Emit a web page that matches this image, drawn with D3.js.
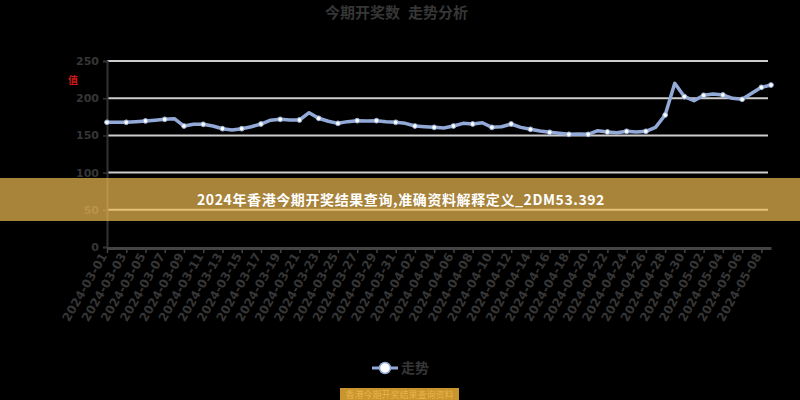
<!DOCTYPE html>
<html>
<head>
<meta charset="utf-8">
<script src="https://cdn.jsdelivr.net/npm/d3@7/dist/d3.min.js"></script>
<style>
html,body{margin:0;padding:0;background:#000;}
svg{display:block;}
</style>
</head>
<body>
<svg id="chart" width="800" height="400"></svg>
<script>
const titleParts = ["今期开奖数", "走势分析"];
const bannerText = "2024年香港今期开奖结果查询,准确资料解释定义_2DM53.392";
const seriesName = "走势";
const yTicks = [0, 50, 100, 150, 200, 250];
const categories = [
  "2024-03-01","2024-03-02","2024-03-03","2024-03-04","2024-03-05","2024-03-06","2024-03-07","2024-03-08","2024-03-09","2024-03-10",
  "2024-03-11","2024-03-12","2024-03-13","2024-03-14","2024-03-15","2024-03-16","2024-03-17","2024-03-18","2024-03-19","2024-03-20",
  "2024-03-21","2024-03-22","2024-03-23","2024-03-24","2024-03-25","2024-03-26","2024-03-27","2024-03-28","2024-03-29","2024-03-30",
  "2024-03-31","2024-04-01","2024-04-02","2024-04-03","2024-04-04","2024-04-05","2024-04-06","2024-04-07","2024-04-08","2024-04-09",
  "2024-04-10","2024-04-11","2024-04-12","2024-04-13","2024-04-14","2024-04-15","2024-04-16","2024-04-17","2024-04-18","2024-04-19",
  "2024-04-20","2024-04-21","2024-04-22","2024-04-23","2024-04-24","2024-04-25","2024-04-26","2024-04-27","2024-04-28","2024-04-29",
  "2024-04-30","2024-05-01","2024-05-02","2024-05-03","2024-05-04","2024-05-05","2024-05-06","2024-05-07","2024-05-08","2024-05-09"
];
const values = [
  167.6,167.6,167.6,168.5,169.4,170.5,171.6,172.5,162.6,165.0,
  164.9,162.6,159.0,157.2,159.0,161.7,165.3,170.5,171.6,170.7,
  170.7,180.5,173.0,169.0,166.2,168.5,169.8,169.4,169.8,168.5,
  167.6,166.2,162.6,161.7,160.8,160.0,162.6,166.2,165.3,167.0,
  160.8,161.7,165.3,160.8,158.2,155.9,154.1,152.8,151.4,151.9,
  151.4,156.3,154.6,153.6,155.5,154.6,155.5,160.8,177.4,220.0,
  202.0,196.6,203.9,205.6,204.3,199.8,198.5,206.6,214.6,217.7
];

const textColor = "#363636";
const svg = d3.select("#chart");
const x = d3.scalePoint().domain(categories).range([107, 771]);
const y = d3.scaleLinear().domain([0, 250]).range([247, 61]);

// title
const tg = svg.append("g").attr("font-family", "'Noto Sans CJK SC', sans-serif")
  .attr("font-size", 15).attr("font-weight", "bold").attr("fill", textColor);
tg.append("text").attr("x", 325).attr("y", 18).text(titleParts[0]);
tg.append("text").attr("x", 408).attr("y", 18).text(titleParts[1]);

// red y-axis name mark
svg.append("text").attr("x", 68).attr("y", 84)
  .attr("font-family", "'Noto Sans CJK SC', sans-serif").attr("font-size", 10)
  .attr("font-weight", "bold").attr("fill", "#d01818").text("值");

// grid lines
svg.append("g").selectAll("line").data(yTicks.filter(d => d > 0)).join("line")
  .attr("x1", 107).attr("x2", 768)
  .attr("y1", d => y(d)).attr("y2", d => y(d))
  .attr("stroke", "#cccccc").attr("stroke-width", 2);

// y axis
const yAxis = svg.append("g").attr("transform", "translate(107,0)")
  .call(d3.axisLeft(y).tickValues(yTicks).tickSize(4).tickPadding(4));
yAxis.select(".domain").attr("stroke", "#333").attr("stroke-width", 2);
yAxis.selectAll(".tick line").attr("stroke", "#333").attr("stroke-width", 1.5);
yAxis.selectAll(".tick text").attr("fill", textColor).attr("font-size", 11)
  .attr("font-weight", "bold").attr("font-family", "'DejaVu Sans', sans-serif");

// x axis
const shown = categories.filter((d, i) => i % 2 === 0);
const xAxis = svg.append("g").attr("transform", "translate(0,248)")
  .call(d3.axisBottom(x).tickValues(shown).tickSize(5).tickSizeOuter(0));
xAxis.select(".domain").attr("stroke", "#444").attr("stroke-width", 3);
xAxis.selectAll(".tick line").attr("stroke", "#444").attr("stroke-width", 1.5);
xAxis.selectAll(".tick text")
  .attr("fill", textColor).attr("font-size", 12).attr("font-weight", "bold")
  .attr("font-family", "'DejaVu Sans', sans-serif")
  .attr("text-anchor", "end").attr("dy", null).attr("y", 0)
  .attr("transform", "translate(0,8) rotate(-60)");

// line
const line = d3.line().x((d, i) => x(categories[i])).y(d => y(d));
svg.append("path").datum(values)
  .attr("fill", "none").attr("stroke", "#93aad8").attr("stroke-width", 3.5)
  .attr("stroke-linejoin", "round").attr("d", line);

// dots (every other point)
svg.append("g").selectAll("circle")
  .data(values.map((v, i) => ({v, i})).filter(d => d.i % 2 === 0 || d.i === values.length - 1))
  .join("circle")
  .attr("cx", d => x(categories[d.i])).attr("cy", d => y(d.v))
  .attr("r", 2.4).attr("fill", "#ffffff").attr("stroke", "#93aad8").attr("stroke-width", 1);

// legend
const lg = svg.append("g");
lg.append("line").attr("x1", 372).attr("x2", 398).attr("y1", 368).attr("y2", 368)
  .attr("stroke", "#93aad8").attr("stroke-width", 3);
lg.append("circle").attr("cx", 385).attr("cy", 368).attr("r", 5.5)
  .attr("fill", "#ffffff").attr("stroke", "#93aad8").attr("stroke-width", 1.5);
lg.append("text").attr("x", 401).attr("y", 373)
  .attr("font-family", "'Noto Sans CJK SC', sans-serif").attr("font-size", 14)
  .attr("font-weight", "bold").attr("fill", textColor).text(seriesName);

// bottom gold tag
svg.append("rect").attr("x", 340).attr("y", 388).attr("width", 119).attr("height", 14).attr("fill", "#c9952f");
svg.append("text").attr("x", 399.5).attr("y", 398).attr("text-anchor", "middle")
  .attr("font-family", "'Noto Sans CJK SC', sans-serif").attr("font-size", 9)
  .attr("fill", "#e8b448").text("香港今期开奖结果查询资料");

// banner overlay
svg.append("rect").attr("x", 0).attr("y", 178).attr("width", 800).attr("height", 43)
  .attr("fill", "rgb(240,187,83)").attr("fill-opacity", 0.7);
svg.append("text").attr("x", 401).attr("y", 205).attr("text-anchor", "middle")
  .attr("font-family", "'Noto Sans CJK SC', sans-serif").attr("font-size", 14)
  .attr("letter-spacing", 0.6)
  .attr("font-weight", "bold").attr("fill", "#ffffff").text(bannerText);
</script>
</body>
</html>
